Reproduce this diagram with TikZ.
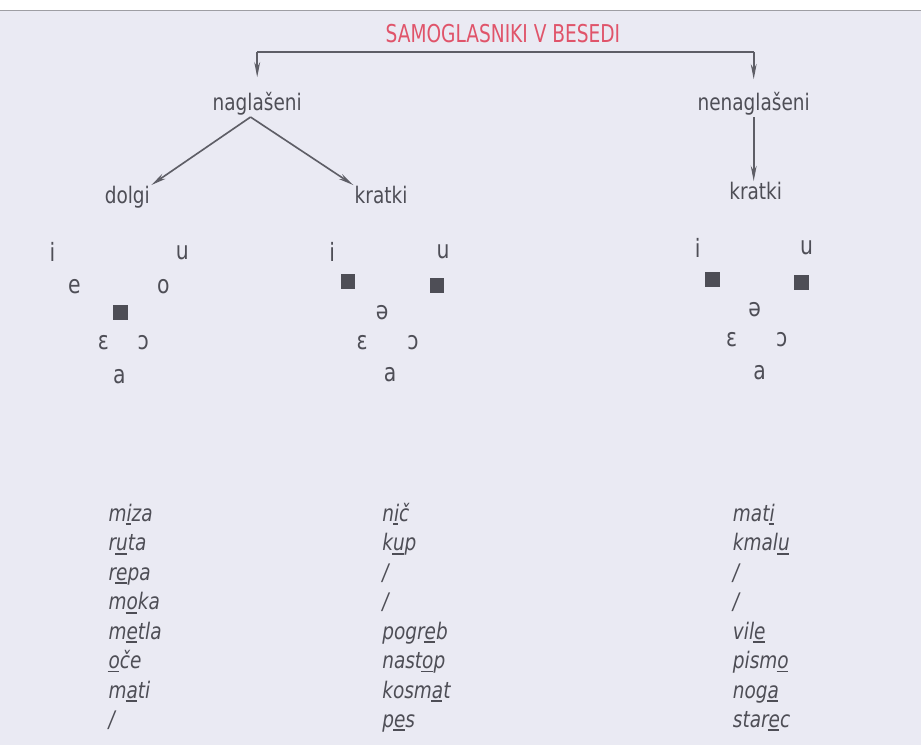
\documentclass[tikz,border=0pt]{standalone}
\usepackage{fontspec}
\setmainfont{DejaVu Sans Condensed}[FakeStretch=0.9]
\newfontfamily\titlefont{DejaVu Sans Condensed}[FakeStretch=0.84]
\usepackage{xcolor}
\usepackage{tikz}
\usetikzlibrary{arrows.meta,positioning}

\definecolor{inkgrey}{HTML}{4E4E56}
\definecolor{linegrey}{HTML}{5E5E66}
\definecolor{titlered}{HTML}{E0546A}
\definecolor{paper}{HTML}{EAEAF3}

% underlined vowel in a word
\newcommand{\udl}[1]{\setbox0\hbox{#1}\rlap{\kern-0.04em\raisebox{-0.16em}{\rule{\wd0}{0.085em}}}\box0}

\begin{document}
\begin{tikzpicture}[
  x=0.03cm, y=-0.03cm,
  lbl/.style={font=\fontsize{19.5}{22}\selectfont, text=inkgrey, inner sep=1pt, anchor=base},
  vow/.style={font=\fontsize{21.5}{24}\selectfont, text=inkgrey, inner sep=0pt},
  sq/.style={fill=inkgrey, minimum size=0.44cm, inner sep=0pt},
  word/.style={font=\fontsize{19.5}{22}\selectfont\itshape, text=inkgrey, inner sep=0pt, anchor=base west},
  arrow/.style={-{Stealth[length=13pt,width=5pt]}, line width=1.4pt, draw=linegrey}
]

% Page
\fill[white] (0,0) rectangle (921,746);
\fill[paper] (0,10) rectangle (921,746);
\draw[linegrey!60, line width=0.8pt] (0,10) -- (921,10);
\useasboundingbox (0,0) rectangle (921,746);

% Title
\node[lbl, text=titlered, font=\titlefont\fontsize{21}{24}\selectfont] (title) at (503,43) {SAMOGLASNIKI V BESEDI};
\coordinate (br) at (505,52);

% Stressed / unstressed
\node[lbl] (nag) at (257,111) {naglašeni};
\node[lbl] (nenag) at (754,111) {nenaglašeni};

% Long / short
\node[lbl] (dolgi) at (127,204) {dolgi};
\node[lbl] (kratkiA) at (381,204) {kratki};
\node[lbl] (kratkiB) at (756,200) {kratki};

% Arrows
\draw[line width=1.4pt, draw=linegrey] (nag |- br) -- (nenag |- br);
\draw[arrow, shorten >=0.42cm] (nag |- br) -- (nag.north);
\draw[arrow, shorten >=0.36cm] (nenag |- br) -- (nenag.north);
\draw[arrow] ([xshift=-0.2cm]nag.south) -- (dolgi.north east);
\draw[arrow] ([xshift=-0.2cm]nag.south) -- (kratkiA.north west);
\draw[arrow] (nenag.south) -- (nenag.south |- kratkiB.north);

% Vowels: naglaseni dolgi
\node[vow] (d-i) at (52,252) {i};
\node[vow] (d-u) at (182,253) {u};
\node[vow] (d-e) at (74,287) {e};
\node[vow] (d-o) at (163,287) {o};
\node[sq] (d-sq) at (120,313) {};
\node[vow] (d-eo) at (103,343) {ɛ};
\node[vow] (d-oo) at (143,343) {ɔ};
\node[vow] (d-a) at (119,377) {a};

% Vowels: naglaseni kratki
\node[vow] (k-i) at (332,252) {i};
\node[vow] (k-u) at (443,252) {u};
\node[sq] (k-sq1) at (348,282) {};
\node[sq] (k-sq2) at (437,286) {};
\node[vow] (k-schwa) at (382,313) {ə};
\node[vow] (k-eo) at (362,343) {ɛ};
\node[vow] (k-oo) at (413,343) {ɔ};
\node[vow] (k-a) at (390,375) {a};

% Vowels: nenaglaseni kratki
\node[vow] (n-i) at (698,248) {i};
\node[vow] (n-u) at (807,248) {u};
\node[sq] (n-sq1) at (713,280) {};
\node[sq] (n-sq2) at (802,283) {};
\node[vow] (n-schwa) at (755,310) {ə};
\node[vow] (n-eo) at (732,340) {ɛ};
\node[vow] (n-oo) at (782,340) {ɔ};
\node[vow] (n-a) at (760,373) {a};

% Words: dolgi
\node[word] (dw1) at (108,522) {m\udl{i}za};
\node[word] (dw2) at (108,551.5) {r\udl{u}ta};
\node[word] (dw3) at (108,581) {r\udl{e}pa};
\node[word] (dw4) at (108,610.5) {m\udl{o}ka};
\node[word] (dw5) at (108,640) {m\udl{e}tla};
\node[word] (dw6) at (108,669.5) {\udl{o}če};
\node[word] (dw7) at (108,699) {m\udl{a}ti};
\node[word] (dw8) at (108,728.5) {/};

% Words: naglaseni kratki
\node[word] (kw1) at (382,522) {n\udl{i}č};
\node[word] (kw2) at (382,551.5) {k\udl{u}p};
\node[word] (kw3) at (382,581) {/};
\node[word] (kw4) at (382,610.5) {/};
\node[word] (kw5) at (382,640) {pogr\udl{e}b};
\node[word] (kw6) at (382,669.5) {nast\udl{o}p};
\node[word] (kw7) at (382,699) {kosm\udl{a}t};
\node[word] (kw8) at (382,728.5) {p\udl{e}s};

% Words: nenaglaseni kratki
\node[word] (nw1) at (733,522) {mat\udl{i}};
\node[word] (nw2) at (733,551.5) {kmal\udl{u}};
\node[word] (nw3) at (733,581) {/};
\node[word] (nw4) at (733,610.5) {/};
\node[word] (nw5) at (733,640) {vil\udl{e}};
\node[word] (nw6) at (733,669.5) {pism\udl{o}};
\node[word] (nw7) at (733,699) {nog\udl{a}};
\node[word] (nw8) at (733,728.5) {star\udl{e}c};

\end{tikzpicture}
\end{document}
